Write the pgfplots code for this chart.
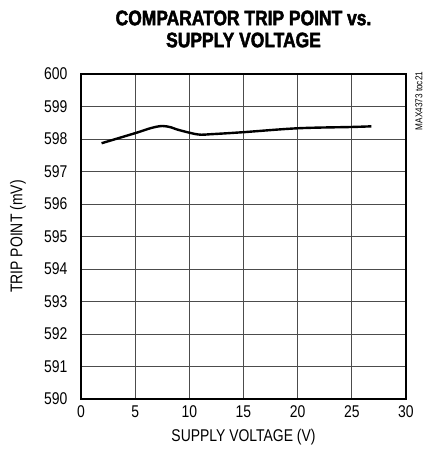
\documentclass[border=0pt]{standalone}
\usepackage{fontspec}
\setmainfont{Liberation Sans}[FakeStretch=0.82]
\newfontfamily\titlefont{Liberation Sans Bold}[FakeStretch=0.83, FakeBold=2.2]
\usepackage{pgfplots}
\pgfplotsset{compat=1.18}
\begin{document}
\begin{tikzpicture}[x=1pt,y=1pt]
\begin{axis}[
  scale only axis,
  width=325pt, height=325pt,
  xmin=0, xmax=30, ymin=590, ymax=600,
  xtick={0,5,...,30}, ytick={590,591,...,600},
  grid=major,
  major grid style={line width=0.8pt, black!70},
  axis line style={line width=2.2pt, black},
  tick style={draw=none},
  /pgf/number format/assume math mode=true,
  ticklabel style={font=\fontsize{17}{17}\selectfont},
  yticklabel style={/pgf/number format/1000 sep={}},
  xticklabel style={yshift=-3pt},
  yticklabel style={xshift=-10pt},
  clip=false,
]
\addplot[black, line width=2.4pt, smooth, tension=0.55] coordinates {
 (1.9,597.87) (5.0,598.18) (6.5,598.34) (7.5,598.40) (8.3,598.36) (9.0,598.28) (10.8,598.14)
 (12.1,598.15) (15,598.21) (20,598.33) (25,598.37) (26.8,598.39)
};
\end{axis}
\node[font=\fontsize{21}{21}\titlefont] at (162.5,381) {COMPARATOR TRIP POINT vs.};
\node[font=\fontsize{21}{21}\titlefont] at (162.5,359) {SUPPLY VOLTAGE};
\node[font=\fontsize{17}{17}\selectfont] at (162.5,-38) {SUPPLY VOLTAGE (V)};
\node[font=\fontsize{17}{17}\selectfont, rotate=90] at (-63,162.5) {TRIP POINT (mV)};
\node[font=\fontsize{10}{10}\selectfont, rotate=90] at (338,298) {MAX4373 toc21};
\pgfresetboundingbox
\path[use as bounding box] (-81,-57) rectangle (345,399);
\end{tikzpicture}
\end{document}
